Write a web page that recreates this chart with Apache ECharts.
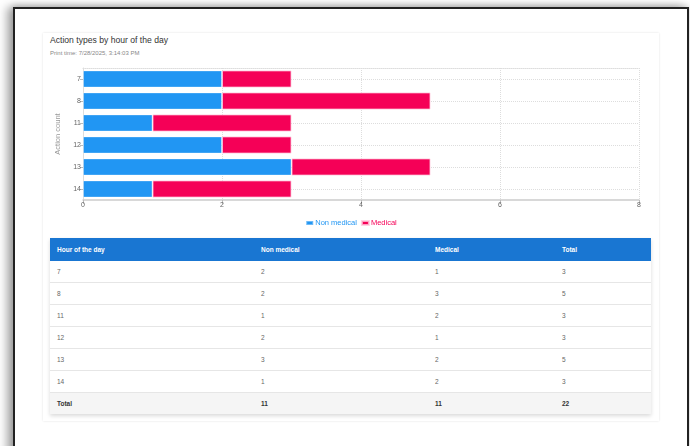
<!DOCTYPE html>
<html>
<head>
<meta charset="utf-8">
<script src="https://cdn.jsdelivr.net/npm/echarts@6/dist/echarts.min.js"></script>
<style>
    body { margin: 0; background: #fff; font-family: "Liberation Sans", Arial, sans-serif; overflow: hidden; }
    #frame {
        position: absolute; left: 13px; top: 7px; width: 672px; height: 470px;
        border: 2px solid #222; background: #fff;
        box-shadow: -6px 0 9px rgba(0,0,0,0.35), 0 -2px 6px rgba(0,0,0,0.15);
    }
    #card {
        position: absolute; left: 43px; top: 33px; width: 616px; height: 388px;
        box-shadow: 0 0 2px rgba(0,0,0,0.12);
        background: #fff;
    }
    #title { position: absolute; left: 50px; top: 35px; font-size: 8.6px; color: #333; }
    #subtitle { position: absolute; left: 50px; top: 50px; font-size: 6px; color: #888; }
    #chart { position: absolute; left: 43px; top: 60px; width: 616px; height: 170px; }
    #tbl {
        position: absolute; left: 50px; top: 238px; width: 601px;
        border-collapse: collapse; font-size: 6.5px; color: #666;
        box-shadow: 0 2px 4px rgba(0,0,0,0.15);
    }
    #tbl th {
        background: #1976d2; color: #fff; font-weight: bold; text-align: left;
        height: 23px; padding: 0 0 0 7px;
    }
    #tbl td { height: 21px; padding: 0 0 0 7px; border-bottom: 1px solid #e6e6e6; }
    #tbl tr.total td { background: #f5f5f5; font-weight: bold; color: #333; border-bottom: none; }
</style>
</head>
<body>
<div id="frame"></div>
<div id="card"></div>
<div id="title">Action types by hour of the day</div>
<div id="subtitle">Print time: 7/28/2025, 3:14:03 PM</div>
<div id="chart"></div>
<table id="tbl"></table>
<script>
// 数据
var hours = ['7', '8', '11', '12', '13', '14'];
var nonMedical = [2, 2, 1, 2, 3, 1];
var medical = [1, 3, 2, 1, 2, 2];
var xTicks = [0, 8, 2]; // min, max, interval
var colors = ['#2196f3', '#f50057'];

// 图表
function initChart() {
    var myChart = echarts.init(document.getElementById('chart'));
    var option = {
        animation: false,
        grid: {
            left: 40,
            right: 20,
            top: 8,
            bottom: 30
        },
        legend: {
            top: 154,
            left: 'center',
            itemWidth: 7,
            itemHeight: 4,
            itemGap: 4,
            icon: 'rect',
            data: [
                { name: 'Non medical', textStyle: { color: colors[0] } },
                { name: 'Medical', textStyle: { color: colors[1] } }
            ],
            textStyle: { fontSize: 7.5, padding: [0, 0, 0, -3] }
        },
        xAxis: [
            {
                type: 'value',
                min: xTicks[0],
                max: xTicks[1],
                interval: xTicks[2],
                axisLine: { show: true, lineStyle: { color: '#cccccc', width: 1.5 } },
                axisTick: { show: true, length: 4, lineStyle: { color: '#bbbbbb' } },
                axisLabel: { fontSize: 7, color: '#666', margin: 2 },
                splitLine: { lineStyle: { type: 'dotted', color: '#dddddd' } }
            },
            {
                type: 'value',
                position: 'top',
                min: xTicks[0],
                max: xTicks[1],
                axisLine: { show: true, lineStyle: { type: 'dotted', color: '#dddddd' } },
                axisTick: { show: false },
                axisLabel: { show: false },
                splitLine: { show: false }
            }
        ],
        yAxis: {
            type: 'category',
            inverse: true,
            data: hours,
            name: 'Action count',
            nameLocation: 'middle',
            nameGap: 20,
            nameTextStyle: { fontSize: 7.5, color: '#999' },
            axisLine: { show: true, lineStyle: { color: '#dddddd' } },
            axisTick: { show: true, alignWithLabel: true, length: 3, lineStyle: { color: '#bbbbbb' } },
            axisLabel: { fontSize: 7, color: '#666', margin: 2 },
            splitLine: { show: true, alignWithLabel: true, lineStyle: { type: 'dotted', color: '#dddddd' } }
        },
        series: [
            {
                name: 'Non medical',
                type: 'bar',
                stack: 'total',
                data: nonMedical,
                barWidth: '78%',
                itemStyle: { color: colors[0], borderColor: 'rgba(255,255,255,0.35)', borderWidth: 1 }
            },
            {
                name: 'Medical',
                type: 'bar',
                stack: 'total',
                data: medical,
                barWidth: '78%',
                itemStyle: { color: colors[1], borderColor: 'rgba(255,200,220,0.8)', borderWidth: 1 }
            }
        ]
    };
    myChart.setOption(option);
}

// 表格
function initTable() {
    var html = '<tr><th style="width:197px">Hour of the day</th><th style="width:167px">Non medical</th>' +
        '<th style="width:120px">Medical</th><th>Total</th></tr>';
    var sumA = 0, sumB = 0;
    for (var i = 0; i < hours.length; i++) {
        sumA += nonMedical[i];
        sumB += medical[i];
        html += '<tr><td>' + hours[i] + '</td><td>' + nonMedical[i] + '</td><td>' + medical[i] +
            '</td><td>' + (nonMedical[i] + medical[i]) + '</td></tr>';
    }
    html += '<tr class="total"><td>Total</td><td>' + sumA + '</td><td>' + sumB + '</td><td>' + (sumA + sumB) + '</td></tr>';
    document.getElementById('tbl').innerHTML = html;
}

initChart();
initTable();
</script>
</body>
</html>
